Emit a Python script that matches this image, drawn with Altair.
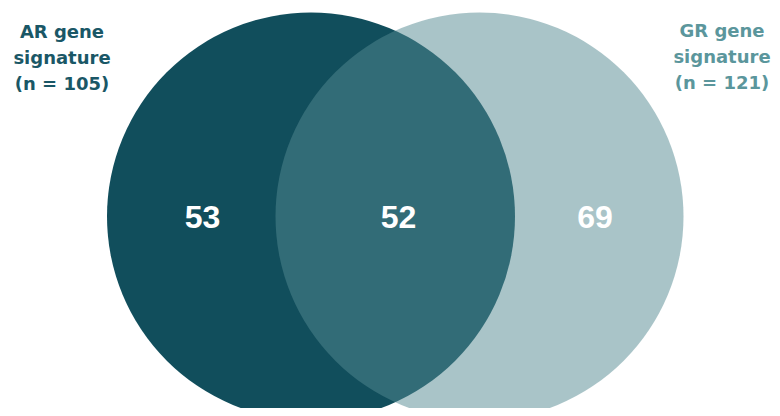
import altair as alt
import pandas as pd

# ---- data ----
set_names = ["AR gene signature", "GR gene signature"]
set_sizes = [105, 121]
set_cx = [303, 471.5]          # layout coordinates of circle centres
set_cy = [208.5, 208.5]
radius = 204

region_names = ["AR only", "AR & GR", "GR only"]
region_counts = [53, 52, 69]
region_x = [194.5, 390.5, 587]
region_y = [210, 210, 210]

ar_lines = ["AR gene", "signature", f"(n = {set_sizes[0]})"]
gr_lines = ["GR gene", "signature", f"(n = {set_sizes[1]})"]
ar_label_x = 54
gr_label_x = 714
ar_label_y = [30, 56, 82]
gr_label_y = [29, 55, 81]

W, H = 764, 400

circles = pd.DataFrame({"set": set_names, "n": set_sizes, "cx": set_cx, "cy": set_cy})
regions = pd.DataFrame({"region": region_names, "count": region_counts, "x": region_x, "y": region_y})
ar_df = pd.DataFrame({"text": ar_lines, "x": [ar_label_x] * 3, "y": ar_label_y})
gr_df = pd.DataFrame({"text": gr_lines, "x": [gr_label_x] * 3, "y": gr_label_y})

xs = alt.Scale(domain=[0, W], nice=False, zero=False)
ys = alt.Scale(domain=[0, H], nice=False, zero=False, reverse=True)
# Vega circle symbol: radius = sqrt(size) / 2
size_px = (2 * radius) ** 2

base = alt.Chart(circles)

left = base.transform_filter(alt.datum.set == set_names[0]).mark_circle(
    color="#114e5c", opacity=1, size=size_px
).encode(
    x=alt.X("cx:Q", scale=xs, axis=None),
    y=alt.Y("cy:Q", scale=ys, axis=None),
)
right = base.transform_filter(alt.datum.set == set_names[1]).mark_circle(
    color="#538991", opacity=0.5, size=size_px
).encode(
    x=alt.X("cx:Q", scale=xs, axis=None),
    y=alt.Y("cy:Q", scale=ys, axis=None),
)

nums = alt.Chart(regions).mark_text(
    font="Liberation Sans", fontSize=32, fontWeight="bold", color="white",
    align="center", baseline="middle"
).encode(
    x=alt.X("x:Q", scale=xs, axis=None),
    y=alt.Y("y:Q", scale=ys, axis=None),
    text="count:Q",
)

ar_text = alt.Chart(ar_df).mark_text(
    font="DejaVu Sans", fontSize=18, fontWeight="bold", color="#1a5766",
    align="center", baseline="alphabetic"
).encode(
    x=alt.X("x:Q", scale=xs, axis=None),
    y=alt.Y("y:Q", scale=ys, axis=None),
    text="text:N",
)
gr_text = alt.Chart(gr_df).mark_text(
    font="DejaVu Sans", fontSize=18, fontWeight="bold", color="#5b969c",
    align="center", baseline="alphabetic"
).encode(
    x=alt.X("x:Q", scale=xs, axis=None),
    y=alt.Y("y:Q", scale=ys, axis=None),
    text="text:N",
)

chart = alt.layer(left, right, nums, ar_text, gr_text).properties(
    width=W, height=H, padding=0,
    autosize=alt.AutoSizeParams(type="none"),
).configure_view(stroke=None)

chart.save("out.html", embed_options={"renderer": "svg", "actions": False})
